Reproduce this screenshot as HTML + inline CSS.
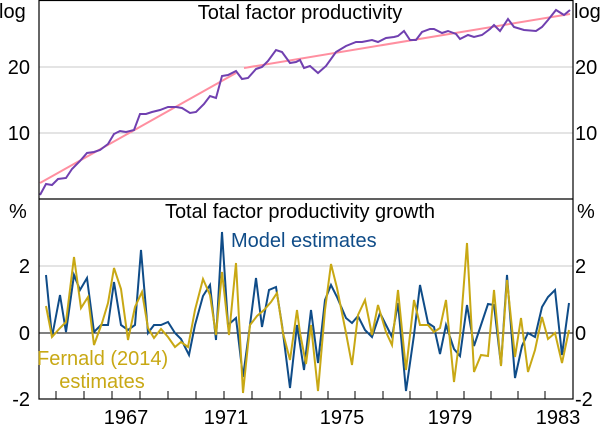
<!DOCTYPE html><html><head><style>body{margin:0;background:#fff}svg{display:block;font-family:"Liberation Sans",Arial,sans-serif}</style></head><body>
<svg width="600" height="427" viewBox="0 0 600 427">
<g stroke="#c8c8c8" stroke-width="1">
<line x1="39" y1="67" x2="573" y2="67"/><line x1="39" y1="133" x2="573" y2="133"/>
<line x1="39" y1="266" x2="573" y2="266"/></g>
<line x1="39" y1="333" x2="573" y2="333" stroke="#000" stroke-width="1"/>
<polyline fill="none" stroke="#ff8fa0" stroke-width="2" points="40,183 236,73"/>
<polyline fill="none" stroke="#ff8fa0" stroke-width="2" points="244,68 570,14"/>
<polyline fill="none" stroke="#7040b0" stroke-width="2" points="40,195 46,184 52,185 58,179 66,178 72,169 80,161 87,153 94,152 100,150 108,144 114,134 120,131 126,132 134,130 140,114 146,114 152,112 160,110 168,107 176,107 182,108 190,113 196,112 204,104 210,96 216,98 222,76 228,75 236,71 242,79 248,78 256,69 262,67 268,61 276,50 282,52 290,63 296,62 300,60 304,68 310,66 318,73 326,66 336,52 346,46 356,42 362,42 372,40 378,42 386,38 394,37 398,36 404,31 410,40 416,40 422,32 430,29 434,29 442,33 448,31 456,34 460,39 468,35 474,37 482,35 490,29 494,25 500,31 508,19 514,27 524,30 536,31 542,27 548,20 556,10 564,15 570,10"/>
<polyline fill="none" stroke="#0f4c88" stroke-width="2" points="46,275 52,337 60,295 66,332 74,275 80,290 87,278 94,332 101,325 108,325 114,282 121,325 128,330 135,325 141,250 148,333 154,325 161,325 168,322 175,333 181,339 189,355 195,325 203,296 210,285 216,340 222,232 228,325 236,318 243,377 250,325 256,278 262,327 269,290 276,287 282,325 290,388 297,325 304,370 311,310 318,363 325,300 331,285 337,297 346,318 352,323 358,316 365,330 372,337 380,313 386,325 392,337 398,303 406,391 414,335 420,285 428,323 434,327 440,354 446,325 454,349 460,356 467,305 474,346 481,325 488,304 494,305 501,365 507,275 515,378 522,346 528,333 535,337 542,307 548,297 555,290 562,355 569,303"/>
<polyline fill="none" stroke="#c8a814" stroke-width="2" points="46,306 52,337 60,328 66,322 74,257 81,308 88,297 94,345 102,323 108,303 114,268 121,289 128,340 135,307 142,292 148,328 154,338 161,329 168,337 175,347 181,342 188,347 195,310 203,279 210,295 216,335 222,272 229,335 236,263 243,393 250,325 257,316 264,310 271,302 277,293 283,333 290,360 297,310 300,333 306,364 311,325 318,391 325,310 331,264 337,288 346,333 352,365 358,315 365,300 372,335 378,305 386,332 392,345 398,290 406,370 414,300 420,325 428,325 434,332 440,328 446,300 454,382 460,335 467,243 474,372 481,355 488,356 494,290 501,366 507,280 515,357 521,318 528,372 535,350 542,317 548,339 555,333 562,363 569,330"/>
<g stroke="#000" stroke-width="1.2" fill="none">
<rect x="39" y="0.5" width="534" height="398.5"/><line x1="39" y1="199" x2="573" y2="199"/></g>
<g stroke="#000" stroke-width="1">
<path d="M56 399v-8M84 399v-8M112 399v-8M140 399v-8M168 399v-8M196 399v-8M224 399v-8M252 399v-8M280 399v-8M301 399v-8M328 399v-8M355 399v-8M383 399v-8M410 399v-8M437 399v-8M464 399v-8M491 399v-8M518 399v-8M545 399v-8"/></g>
<g font-size="20" fill="#000">
<text x="300" y="19" text-anchor="middle">Total factor productivity</text>
<text x="300" y="218" text-anchor="middle">Total factor productivity growth</text>
<text x="-1" y="18">log</text><text x="574" y="18">log</text>
<text x="9" y="218">%</text><text x="577" y="218">%</text>
<g text-anchor="end"><text x="30" y="74">20</text><text x="30" y="140">10</text><text x="30" y="273">2</text><text x="30" y="340">0</text><text x="30" y="406">-2</text></g>
<text x="575" y="74">20</text><text x="575" y="140">10</text><text x="575" y="273">2</text><text x="575" y="340">0</text><text x="575" y="406">-2</text>
<g text-anchor="middle"><text x="126" y="424">1967</text><text x="226" y="424">1971</text><text x="342" y="424">1975</text><text x="450" y="424">1979</text><text x="558" y="424">1983</text></g>
<text x="231" y="247" fill="#0f4c88">Model estimates</text>
<text x="37" y="365" fill="#c8a814">Fernald (2014)</text>
<text x="102" y="388" fill="#c8a814" text-anchor="middle">estimates</text>
</g>
</svg></body></html>
